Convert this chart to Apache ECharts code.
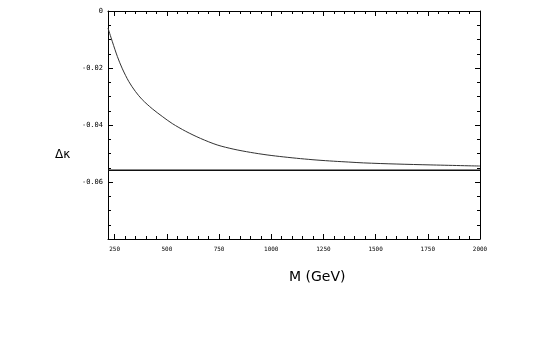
<!DOCTYPE html>
<html>
<head>
<meta charset="utf-8">
<script src="https://cdn.jsdelivr.net/npm/echarts@6/dist/echarts.min.js"></script>
<style>
  html, body { margin: 0; padding: 0; background: #fff; }
  #chart { width: 545px; height: 341px; }
</style>
</head>
<body>
<div id="chart"></div>
<script>
// M in GeV
const massValues = [218, 239, 263, 287, 318, 350, 382, 430, 478, 526, 590, 661, 741, 821, 900, 980, 1060, 1140, 1219, 1299, 1371, 1442, 1602, 1761, 2000]
const deltaKappa = [-0.0060, -0.0108, -0.0160, -0.0203, -0.0248, -0.0283, -0.0311, -0.0343, -0.0370, -0.0395, -0.0422, -0.0447, -0.0470, -0.0485, -0.0496, -0.0505, -0.0512, -0.0518, -0.0523, -0.0527, -0.0530, -0.0533, -0.0537, -0.0540, -0.0544]
// flat reference line
const limitMass = [218, 2000]
const limitValue = [-0.0559, -0.0559]

const xTicks = [250, 500, 750, 1000, 1250, 1500, 1750, 2000]
const xTickLabels = ['250', '500', '750', '1000', '1250', '1500', '1750', '2000']
const yTicks = [0, -0.02, -0.04, -0.06, -0.08]
const yTickLabels = ['0', '-0.02', '-0.04', '-0.06', '']

const xMin = 218
const xMax = 2000

// minor ticks every 50 GeV between the labelled ones
const xMinor = []
for (let v = 250; v <= xMax; v += 50) {
  if (v % 250 !== 0) xMinor.push(v)
}

const frame = { show: true, onZero: false, lineStyle: { color: '#000', width: 1 } }
const noLine = { show: false, onZero: false }

function xAxisDef(position, values, len, withLine, withLabels) {
  return {
    type: 'value',
    position,
    min: xMin,
    max: xMax,
    axisLine: withLine ? frame : noLine,
    axisTick: { show: true, inside: true, length: len, customValues: values, lineStyle: { color: '#000', width: 1 } },
    axisLabel: withLabels
      ? {
          show: true,
          customValues: values,
          margin: 7,
          color: '#000',
          fontSize: 6,
          fontFamily: 'DejaVu Sans Mono',
          formatter: v => xTickLabels[xTicks.indexOf(v)] ?? '',
        }
      : { show: false, customValues: values },
    splitLine: { show: false },
  }
}

function yAxisDef(position, withLabels) {
  return {
    type: 'value',
    position,
    min: -0.08,
    max: 0,
    interval: 0.02,
    axisLine: frame,
    axisTick: { show: true, inside: true, length: 5, lineStyle: { color: '#000', width: 1 } },
    minorTick: { show: true, splitNumber: 4, length: 3, lineStyle: { color: '#000', width: 1 } },
    axisLabel: {
      show: withLabels,
      margin: 5,
      color: '#000',
      fontSize: 7,
      fontFamily: 'DejaVu Sans Mono',
      formatter: v => {
        const i = yTicks.findIndex(t => Math.abs(t - v) < 1e-9)
        return i >= 0 ? yTickLabels[i] : ''
      },
    },
    splitLine: { show: false },
    minorSplitLine: { show: false },
  }
}

const chart = echarts.init(document.getElementById('chart'), null, { renderer: 'canvas' })

chart.setOption({
  animation: false,
  backgroundColor: '#fff',
  grid: { left: 108, right: 65, top: 11, bottom: 102, containLabel: false },
  xAxis: [
    xAxisDef('bottom', xTicks, 5, true, true),
    xAxisDef('bottom', xMinor, 3, false, false),
    xAxisDef('top', xTicks, 5, true, false),
    xAxisDef('top', xMinor, 3, false, false),
  ],
  yAxis: [yAxisDef('left', true), yAxisDef('right', false)],
  graphic: [
    {
      type: 'text',
      left: 55,
      top: 149,
      style: { text: 'Δκ', fill: '#000', font: '12px "DejaVu Sans"' },
    },
    {
      type: 'text',
      left: 289,
      top: 270,
      style: { text: 'M (GeV)', fill: '#000', font: '14px "DejaVu Sans"' },
    },
  ],
  series: [
    {
      type: 'line',
      xAxisIndex: 0,
      yAxisIndex: 0,
      data: massValues.map((m, i) => [m, deltaKappa[i]]),
      smooth: 0.3,
      showSymbol: false,
      lineStyle: { color: '#333', width: 1 },
    },
    {
      type: 'line',
      xAxisIndex: 0,
      yAxisIndex: 0,
      data: limitMass.map((m, i) => [m, limitValue[i]]),
      showSymbol: false,
      lineStyle: { color: '#111', width: 1.4 },
    },
  ],
})
</script>
</body>
</html>
